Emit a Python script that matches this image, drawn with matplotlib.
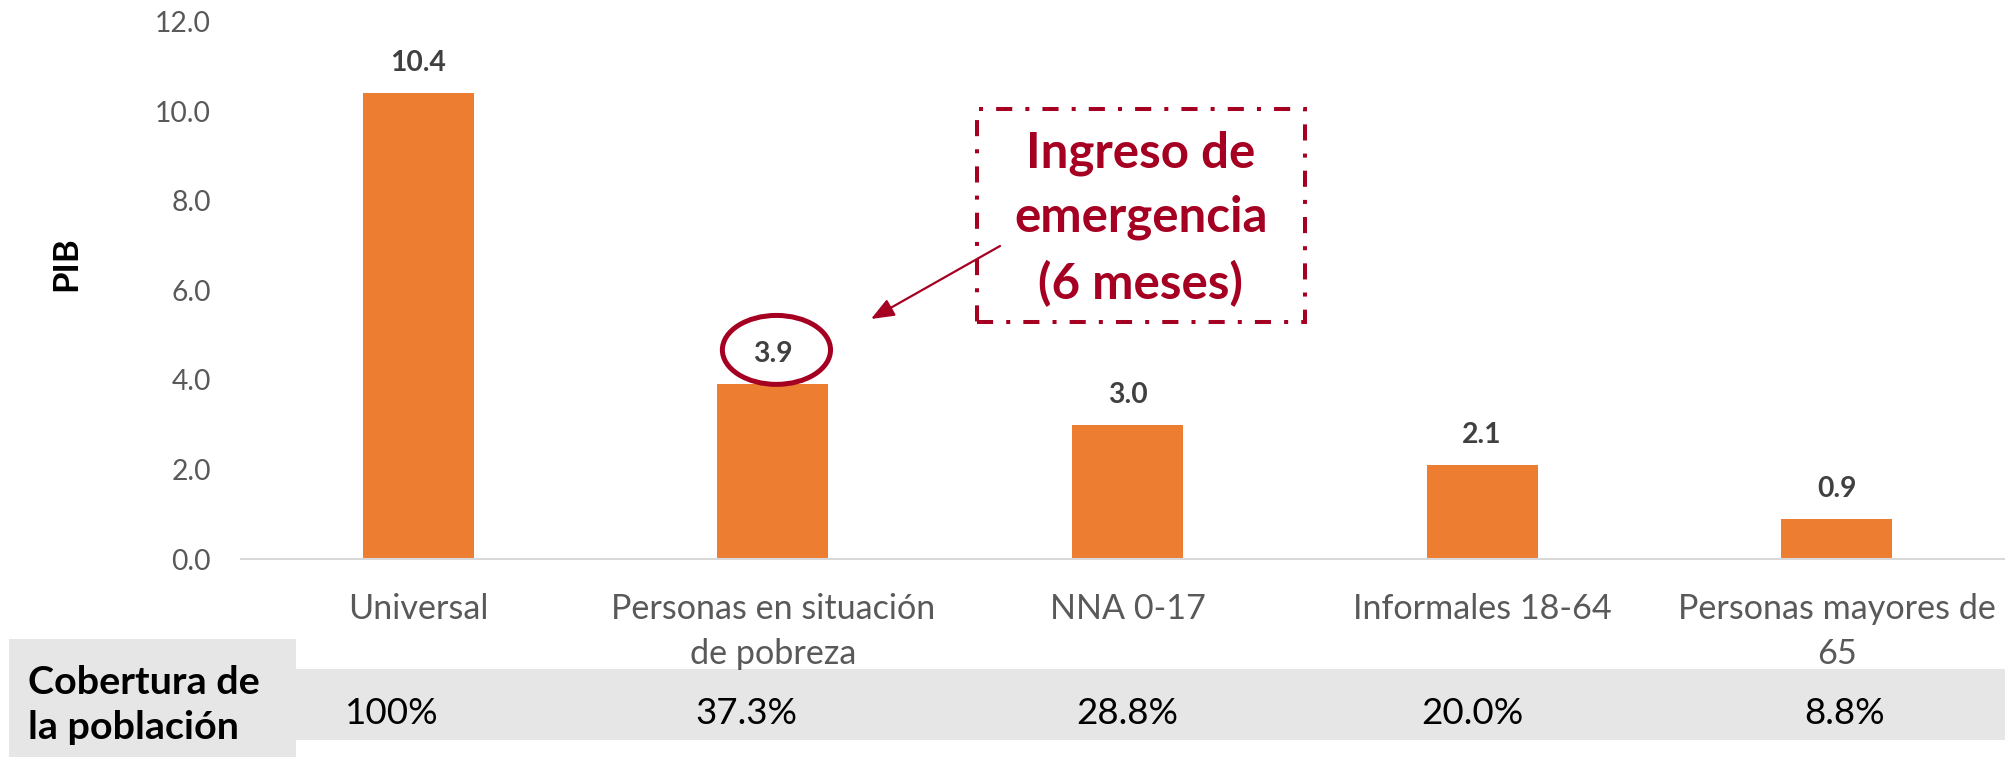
import matplotlib
matplotlib.use("Agg")
import matplotlib.pyplot as plt
from matplotlib.patches import Rectangle, Ellipse, FancyArrowPatch
from matplotlib.font_manager import FontProperties
from matplotlib.transforms import blended_transform_factory

# ---------------- data ----------------
categories = ["Universal", "Personas en situación\nde pobreza", "NNA 0-17",
              "Informales 18-64", "Personas mayores de\n65"]
pib = [10.4, 3.9, 3.0, 2.1, 0.9]
coverage = ["100%", "37.3%", "28.8%", "20.0%", "8.8%"]
yticks = [0, 2, 4, 6, 8, 10, 12]
ytick_labels = ["0.0", "2.0", "4.0", "6.0", "8.0", "10.0", "12.0"]
ylabel = "PIB"
row_title = "Cobertura de\nla población"
callout = "Ingreso de\nemergencia\n(6 meses)"
highlight = 1

# ---------------- style ----------------
FONT = "Lato"
ORANGE = "#ED7D31"
RED = "#A50021"
GRAY_TXT = "#595959"
VAL_TXT = "#404040"
BAND = "#E7E6E6"
CAT_W = "normal"

W, H = 2005, 757
DPI = 100
fig = plt.figure(figsize=(W / DPI, H / DPI), dpi=DPI)
renderer = fig.canvas.get_renderer()


def fx(px):
    return px / W


def fy(py):
    return 1 - py / H


def fit_size(s, target, **kw):
    t = fig.text(0, 0, s, fontsize=20, family=FONT, **kw)
    for _ in range(3):
        w = t.get_window_extent(renderer).width
        t.set_fontsize(t.get_fontsize() * target / w)
    size = t.get_fontsize()
    t.remove()
    return size


def lp(size, weight="normal"):
    fp = FontProperties(family=FONT, weight=weight, size=size)
    _, h, d = renderer.get_text_width_height_descent("lp", fp, ismath=False)
    return h, d


def spacing(size, gap, weight="normal"):
    h, d = lp(size, weight)
    return (gap - d) / (h - d)


def top_from_baseline(size, baseline, weight="normal"):
    h, d = lp(size, weight)
    return baseline - (h - d)


# ---------------- axes ----------------
x0_px, x1_px = 241, 2014
y0_px, y12_px = 559, 21.7
ax = fig.add_axes([fx(x0_px), fy(y0_px), fx(x1_px) - fx(x0_px), fy(y12_px) - fy(y0_px)])
ax.set_xlim(-0.5, len(categories) - 0.5)
ax.set_ylim(0, 12)
xs = list(range(len(categories)))
ax.bar(xs, pib, width=0.313, color=ORANGE, zorder=2)

for s in ["top", "right", "left"]:
    ax.spines[s].set_visible(False)
ax.spines["bottom"].set_color("#D9D9D9")
ax.spines["bottom"].set_linewidth(1.5)
ax.spines["bottom"].set_clip_on(False)

# y ticks
ysz = fit_size("12.0", 56)
ax.set_yticks(yticks, ytick_labels)
ax.tick_params(axis="y", length=0, pad=30 * 72 / DPI, labelsize=ysz, labelcolor=GRAY_TXT)
for t in ax.get_yticklabels():
    t.set_family(FONT)

# x ticks (categories)
csz = fit_size("Personas en situación", 324, weight=CAT_W)
ax.set_xticks(xs, categories)
top_cat = top_from_baseline(csz, 619, CAT_W)
ax.tick_params(axis="x", length=0, pad=(top_cat - y0_px) * 72 / DPI, labelsize=csz,
               labelcolor=GRAY_TXT)
cls = spacing(csz, 45, CAT_W)
for t in ax.get_xticklabels():
    t.set_family(FONT)
    t.set_fontweight(CAT_W)
    t.set_linespacing(cls)

# value labels
vsz = fit_size("10.4", 56, weight="bold")
for i, v in enumerate(pib):
    ax.annotate(f"{v:.1f}", (i, v), xytext=(0, 22 * 72 / DPI), textcoords="offset points",
                ha="center", va="baseline", fontsize=vsz, fontweight="bold",
                color=VAL_TXT, family=FONT)

# highlight ellipse around the circled value
ax.add_patch(Ellipse((highlight + 0.01, pib[highlight] + 0.77), 0.305, 1.54,
                     fill=False, edgecolor=RED, lw=3.6, clip_on=False, zorder=3))

# y label
psz = fit_size(ylabel, 55, weight="bold")
fig.text(fx(66), fy(264), ylabel, rotation=90, ha="center", va="center",
         fontsize=psz, fontweight="bold", color="black", family=FONT)

# ---------------- coverage table ----------------
fig.add_artist(Rectangle((fx(9), 0), fx(296) - fx(9), fy(639), transform=fig.transFigure,
                         facecolor=BAND, edgecolor="none", zorder=0))
fig.add_artist(Rectangle((fx(296), fy(740)), 1 - fx(296), fy(669) - fy(740),
                         transform=fig.transFigure, facecolor=BAND, edgecolor="none", zorder=0))

rsz = fit_size("Cobertura de", 232, weight="bold")
fig.text(fx(28), fy(top_from_baseline(rsz, 694, "bold")), row_title, ha="left", va="top",
         fontsize=rsz, fontweight="bold", color="black", family=FONT,
         linespacing=spacing(rsz, 45, "bold"))

pct_sz = fit_size("28.8%", 102)
col_offsets_px = [-27, -26, 0, -10, 8]
trans = blended_transform_factory(ax.transData, fig.transFigure)
px_per_unit = (x1_px - x0_px) / len(categories)
for i, c in enumerate(coverage):
    fig.text(i + col_offsets_px[i] / px_per_unit, fy(724), c, transform=trans,
             ha="center", va="baseline", fontsize=pct_sz, color="black", family=FONT)

# ---------------- callout ----------------
fig.add_artist(Rectangle((fx(977), fy(322)), fx(1305) - fx(977), fy(109) - fy(322),
                         transform=fig.transFigure, fill=False, edgecolor=RED, lw=2.9,
                         linestyle=(0, (4, 3.25, 1, 3.25)), zorder=4))
ksz = fit_size("emergencia", 254, weight="bold")
fig.text(fx(1141), fy(top_from_baseline(ksz, 168, "bold")), callout, ha="center", va="top",
         fontsize=ksz, fontweight="bold", color=RED, family=FONT,
         linespacing=spacing(ksz, 63.5, "bold"), multialignment="center")

fig.add_artist(FancyArrowPatch((fx(1000), fy(246)), (fx(871), fy(319)),
                               transform=fig.transFigure,
                               arrowstyle="-|>,head_length=0.7,head_width=0.28",
                               mutation_scale=20, color=RED, lw=1.6,
                               shrinkA=0, shrinkB=0, zorder=4))

fig.savefig("out.png", dpi=DPI)
